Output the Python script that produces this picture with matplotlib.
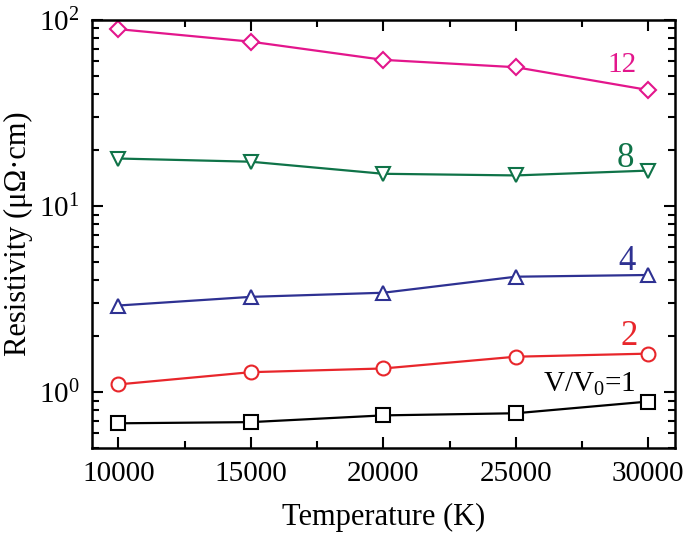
import numpy as np
import matplotlib
matplotlib.use('Agg')
import matplotlib.pyplot as plt
from matplotlib.ticker import MultipleLocator, LogLocator

matplotlib.rcParams.update({'font.family': 'Liberation Serif', 'font.size': 21,
                            'mathtext.fontset': 'custom',
                            'mathtext.rm': 'Liberation Serif',
                            'mathtext.it': 'Liberation Serif:italic'})

temps = [10000, 15000, 20000, 25000, 30000]
rho_1 = [0.68, 0.69, 0.75, 0.77, 0.89]
rho_2 = [1.10, 1.28, 1.34, 1.55, 1.61]
rho_4 = [2.92, 3.25, 3.42, 4.17, 4.26]
rho_8 = [18.0, 17.3, 14.9, 14.6, 15.5]
rho_12 = [89.2, 76.4, 61.0, 55.7, 42.0]

series = [(rho_1, 'black', 's'),
          (rho_2, '#E8262B', 'o'),
          (rho_4, '#2E3192', '^'),
          (rho_8, '#0F7348', 'v'),
          (rho_12, '#E3168C', 'D')]

fig = plt.figure(figsize=(6.85, 5.38), dpi=100)
ax = fig.add_axes([0.134, 0.167, 0.851, 0.796])

for vals, col, mk in series:
    ms = 8.5 if mk == 'D' else 10
    ax.plot(temps, vals, color=col, marker=mk, markersize=ms, markerfacecolor='white',
            markeredgecolor=col, markeredgewidth=1.5, linewidth=1.6)

ax.text(29550, 52.5, '12', color='#E3168C', fontsize=21, ha='right', va='baseline')
ax.text(29470, 16.2, '8', color='#0F7348', fontsize=25, ha='right', va='baseline')
ax.text(29510, 4.53, '4', color='#2E3192', fontsize=25, ha='right', va='baseline')
ax.text(29590, 1.79, '2', color='#E8262B', fontsize=25, ha='right', va='baseline')
ax.text(29510, 1.0, 'V/V$_0$=1', color='black', fontsize=21, ha='right', va='baseline')

ax.set_yscale('log')
ax.set_xlim(9000, 31000)
ax.set_ylim(0.5, 100)
ax.xaxis.set_major_locator(MultipleLocator(5000))
ax.xaxis.set_minor_locator(MultipleLocator(2500))
ax.yaxis.set_major_locator(LogLocator(base=10, numticks=10))
ax.yaxis.set_minor_locator(LogLocator(base=10, subs=np.arange(2, 10), numticks=10))
ax.tick_params(which='both', direction='in', top=True, right=True, width=1.5, labelsize=21)
ax.tick_params(which='major', length=8, pad=9)
ax.tick_params(which='minor', length=5)
for s in ax.spines.values():
    s.set_linewidth(1.8)

ax.set_xlabel('Temperature (K)', fontsize=22, labelpad=12)
ax.set_ylabel('Resistivity (μΩ·cm)', fontsize=22, labelpad=4)

plt.savefig('out.png', dpi=100)
